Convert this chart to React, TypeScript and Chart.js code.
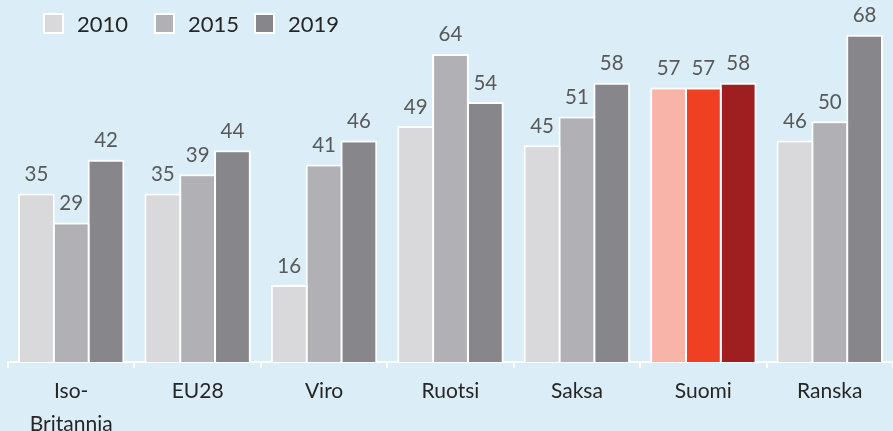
import React, { useEffect, useRef } from "react";
import { Chart, registerables } from "chart.js";

Chart.register(...registerables);

const categories: (string | string[])[] = [
  ["Iso-", "Britannia"],
  "EU28",
  "Viro",
  "Ruotsi",
  "Saksa",
  "Suomi",
  "Ranska",
];

const seriesNames = ["2010", "2015", "2019"];
const values2010 = [35, 35, 16, 49, 45, 57, 46];
const values2015 = [29, 39, 41, 64, 51, 57, 50];
const values2019 = [42, 44, 46, 54, 58, 58, 68];

const greyColors = ["#d9d9db", "#b1b1b5", "#87878b"];
const highlightColors = ["#f9b4a9", "#ef4024", "#9f1f21"];
const highlightCategory = "Suomi";

const FONT = "Lato, 'Open Sans', sans-serif";

const dataLabelsPlugin = {
  id: "dataLabels",
  afterDatasetsDraw(chart: any) {
    const ctx = chart.ctx;
    ctx.save();
    ctx.font = `20.5px ${FONT}`;
    ctx.fillStyle = "#595959";
    ctx.textAlign = "center";
    ctx.textBaseline = "middle";
    chart.data.datasets.forEach((ds: any, i: number) => {
      const meta = chart.getDatasetMeta(i);
      meta.data.forEach((bar: any, j: number) => {
        ctx.fillText(String(ds.data[j]), bar.x, bar.y - 19);
      });
    });
    ctx.restore();
  },
};

const legendPlugin = {
  id: "customLegend",
  afterDraw(chart: any) {
    const ctx = chart.ctx;
    const xs = [43, 154, 254];
    ctx.save();
    ctx.font = `22px ${FONT}`;
    ctx.textAlign = "left";
    ctx.textBaseline = "middle";
    chart.data.datasets.forEach((ds: any, i: number) => {
      const x = xs[i];
      const y = 13;
      ctx.fillStyle = greyColors[i];
      ctx.fillRect(x, y, 21, 21);
      ctx.strokeStyle = "#ffffff";
      ctx.lineWidth = 2;
      ctx.strokeRect(x + 1, y + 1, 19, 19);
      ctx.fillStyle = "#262626";
      ctx.fillText(ds.label, x + 34, y + 11.5);
    });
    ctx.restore();
  },
};

export default function App() {
  const ref = useRef<HTMLCanvasElement>(null);

  useEffect(() => {
    if (!ref.current) return;
    const seriesValues = [values2010, values2015, values2019];
    const hi = categories.indexOf(highlightCategory);
    const chart = new Chart(ref.current, {
      type: "bar",
      data: {
        labels: categories,
        datasets: seriesNames.map((name, i) => ({
          label: name,
          data: seriesValues[i],
          backgroundColor: categories.map((_, j) =>
            j === hi ? highlightColors[i] : greyColors[i]
          ),
          borderColor: "#ffffff",
          borderWidth: 2,
          barPercentage: 1.057,
          categoryPercentage: 0.826,
        })),
      },
      options: {
        animation: false,
        responsive: false,
        devicePixelRatio: 1,
        layout: { padding: { left: 8, right: 0, top: 25, bottom: 0 } },
        plugins: {
          legend: { display: false },
          tooltip: { enabled: false },
        },
        scales: {
          x: {
            grid: {
              display: true,
              drawOnChartArea: false,
              drawTicks: true,
              tickLength: 6,
              color: "#ffffff",
              lineWidth: 2,
              offset: true,
            },
            border: { display: true, color: "#ffffff", width: 2 },
            ticks: {
              color: "#262626",
              font: { family: FONT, size: 21, lineHeight: 1.55 },
              padding: 7,
              maxRotation: 0,
              autoSkip: false,
            },
            afterFit: (scale: any) => {
              scale.height = 69;
            },
          },
          y: {
            display: false,
            min: 0,
            max: 70,
          },
        },
      },
      plugins: [dataLabelsPlugin, legendPlugin],
    });
    return () => chart.destroy();
  }, []);

  return (
    <div
      style={{
        position: "absolute",
        left: 0,
        top: 0,
        width: 893,
        height: 431,
        background: "#dbeef8",
      }}
    >
      <canvas ref={ref} width={893} height={431} style={{ display: "block" }} />
    </div>
  );
}
